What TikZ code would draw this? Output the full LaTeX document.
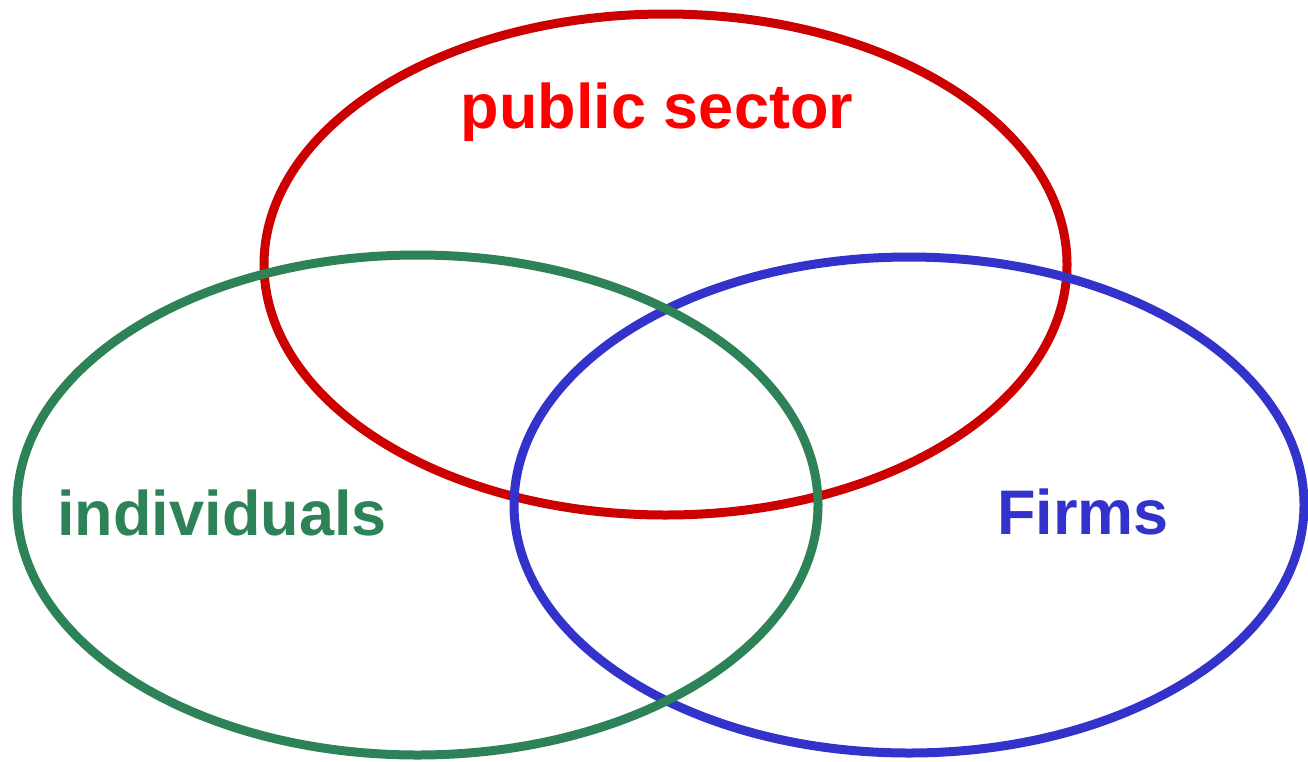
\documentclass[tikz,border=0pt]{standalone}
\usepackage{fontspec}
\setmainfont{Liberation Sans}
\definecolor{redline}{RGB}{204,0,0}
\definecolor{redtext}{RGB}{255,0,0}
\definecolor{greenc}{RGB}{46,130,88}
\definecolor{bluec}{RGB}{51,51,204}
\begin{document}
\begin{tikzpicture}[x=1pt,y=-1pt,
  ring/.style={line width=9pt},
  lbl/.style={anchor=base,inner sep=0pt,font=\fontsize{63}{70}\selectfont\bfseries}]
\useasboundingbox (0,0) rectangle (1308,761);
\draw[ring,redline] (665.5,264.5) ellipse [x radius=401.5, y radius=250.5];
\draw[ring,bluec] (909,505) ellipse [x radius=395, y radius=248];
\draw[ring,greenc] (417.5,505) ellipse [x radius=400.5, y radius=250];
\node[lbl,text=redtext] (pub) at (657,128) {public sector};
\node[lbl,text=greenc] (ind) at (222,535) {individuals};
\node[lbl,text=bluec] (firms) at (1083,534) {Firms};
\end{tikzpicture}
\end{document}
